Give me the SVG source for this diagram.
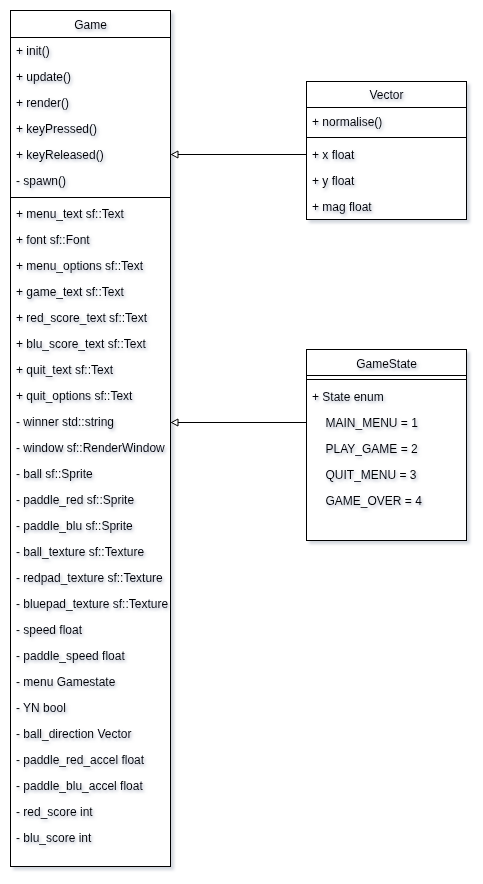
<svg xmlns="http://www.w3.org/2000/svg" width="483" height="884" viewBox="0 0 483 884">
<style>
.box{fill:#fff;stroke:#000;stroke-width:1;filter:url(#bs)}
.sep{stroke:#000;stroke-width:1;fill:none}
text{font-family:"Liberation Sans",Arial,Helvetica,sans-serif;font-size:12px;fill:#000;filter:url(#ts)}
.t{text-anchor:middle}
.edge{stroke:#000;stroke-width:1;fill:none}
</style>
<defs>
<filter id="bs" x="-10%" y="-10%" width="130%" height="130%">
<feDropShadow dx="3" dy="3" stdDeviation="1.5" flood-color="#7f8aa0" flood-opacity="0.35"/>
</filter>
<filter id="ts" x="-10%" y="-40%" width="130%" height="200%">
<feDropShadow dx="1.5" dy="2" stdDeviation="1.4" flood-color="#6e7a94" flood-opacity="0.55"/>
</filter>
<marker id="tri" markerWidth="10" markerHeight="10" refX="7" refY="4" orient="auto" markerUnits="userSpaceOnUse">
<path d="M0.5,0.5 L7,4 L0.5,7.5 Z" fill="#fff" stroke="#000" stroke-width="1"/>
</marker>
</defs>
<g id="Game">
<rect class="box" x="10.5" y="10.5" width="160" height="856"/>
<line class="sep" x1="10.5" y1="37.5" x2="170.5" y2="37.5"/>
<line class="sep" x1="10.5" y1="197.5" x2="170.5" y2="197.5"/>
<text class="t" x="90.5" y="28.5">Game</text>
<text x="16" y="55">+ init()</text>
<text x="16" y="81">+ update()</text>
<text x="16" y="107">+ render()</text>
<text x="16" y="133">+ keyPressed()</text>
<text x="16" y="159">+ keyReleased()</text>
<text x="16" y="185">- spawn()</text>
<text x="16" y="218">+ menu_text sf::Text</text>
<text x="16" y="244">+ font sf::Font</text>
<text x="16" y="270">+ menu_options sf::Text</text>
<text x="16" y="296">+ game_text sf::Text</text>
<text x="16" y="322">+ red_score_text sf::Text</text>
<text x="16" y="348">+ blu_score_text sf::Text</text>
<text x="16" y="374">+ quit_text sf::Text</text>
<text x="16" y="400">+ quit_options sf::Text</text>
<text x="16" y="426">- winner std::string</text>
<text x="16" y="452">- window sf::RenderWindow</text>
<text x="16" y="478">- ball sf::Sprite</text>
<text x="16" y="504">- paddle_red sf::Sprite</text>
<text x="16" y="530">- paddle_blu sf::Sprite</text>
<text x="16" y="556">- ball_texture sf::Texture</text>
<text x="16" y="582">- redpad_texture sf::Texture</text>
<text x="16" y="608">- bluepad_texture sf::Texture</text>
<text x="16" y="634">- speed float</text>
<text x="16" y="660">- paddle_speed float</text>
<text x="16" y="686">- menu Gamestate</text>
<text x="16" y="712">- YN bool</text>
<text x="16" y="738">- ball_direction Vector</text>
<text x="16" y="764">- paddle_red_accel float</text>
<text x="16" y="790">- paddle_blu_accel float</text>
<text x="16" y="816">- red_score int</text>
<text x="16" y="842">- blu_score int</text>
</g>
<g id="Vector">
<rect class="box" x="306.5" y="81.5" width="160" height="138"/>
<line class="sep" x1="306.5" y1="107.5" x2="466.5" y2="107.5"/>
<line class="sep" x1="306.5" y1="137.5" x2="466.5" y2="137.5"/>
<text class="t" x="386.5" y="98.5">Vector</text>
<text x="312" y="125.5">+ normalise()</text>
<text x="312" y="159">+ x float</text>
<text x="312" y="185">+ y float</text>
<text x="312" y="211">+ mag float</text>
</g>
<g id="GameState">
<rect class="box" x="306.5" y="349.5" width="160" height="191"/>
<line class="sep" x1="306.5" y1="375.5" x2="466.5" y2="375.5"/>
<line class="sep" x1="306.5" y1="379.5" x2="466.5" y2="379.5"/>
<text class="t" x="386.5" y="367.5">GameState</text>
<text x="312" y="400.5">+ State enum</text>
<text x="325.5" y="427">MAIN_MENU = 1</text>
<text x="325.5" y="453">PLAY_GAME = 2</text>
<text x="325.5" y="479">QUIT_MENU = 3</text>
<text x="325.5" y="505">GAME_OVER = 4</text>
</g>
<g id="connectors">
<path class="edge" d="M306,154.5 L171.5,154.5" marker-end="url(#tri)"/>
<path class="edge" d="M306,422.5 L171.5,422.5" marker-end="url(#tri)"/>
</g>
</svg>
